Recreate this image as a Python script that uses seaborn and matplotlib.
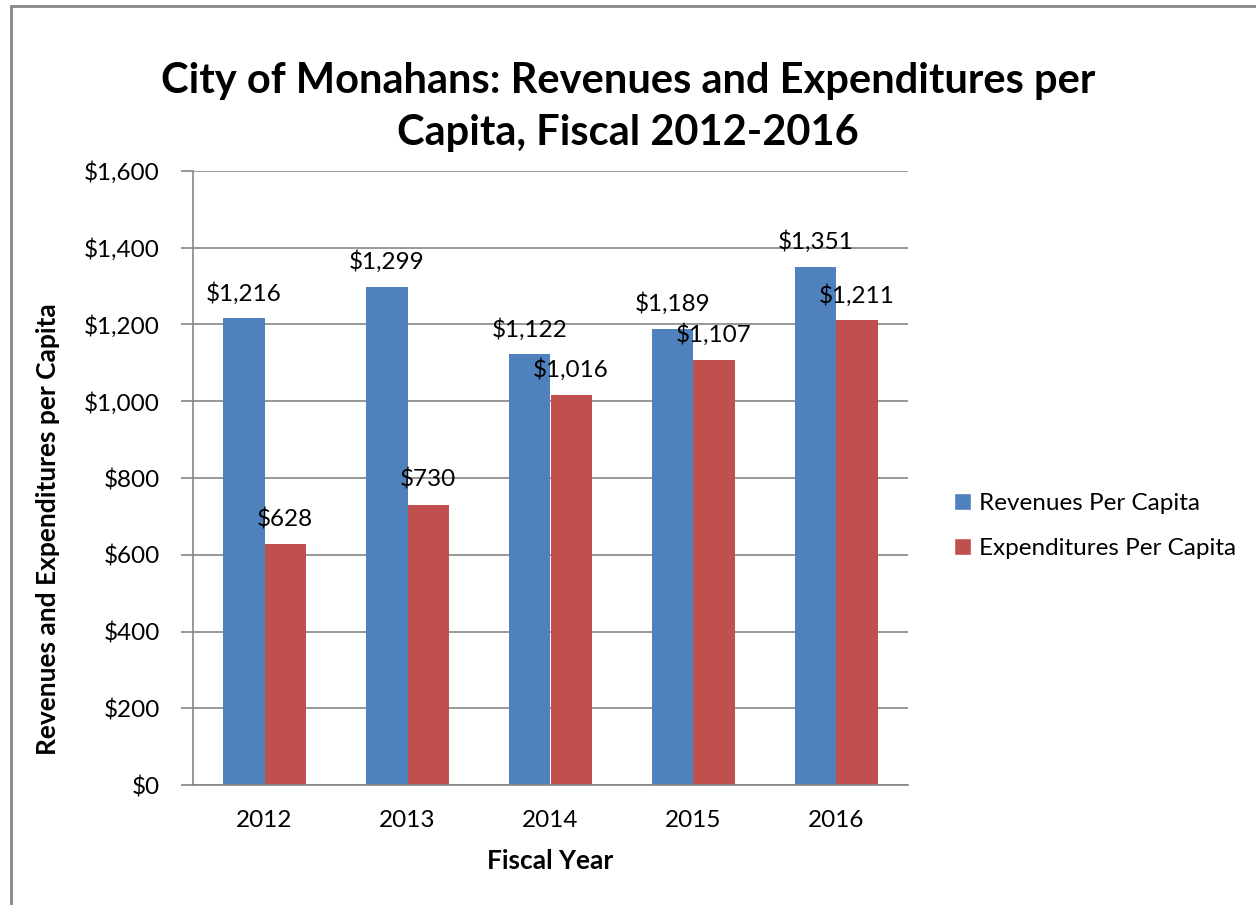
import pandas as pd
import matplotlib.pyplot as plt
import seaborn as sns
from matplotlib.patches import Rectangle, Patch

# Datos del grafico
years = ['2012', '2013', '2014', '2015', '2016']
revenues = [1216, 1299, 1122, 1189, 1351]
expenditures = [628, 730, 1016, 1107, 1211]
series = ['Revenues Per Capita', 'Expenditures Per Capita']
colors = ['#4F81BD', '#C0504D']

df = pd.DataFrame({
    'Fiscal Year': years * 2,
    'Value': revenues + expenditures,
    'Series': [series[0]] * len(years) + [series[1]] * len(years),
})

sns.set_style('white')
plt.rcParams['font.family'] = ['Lato', 'DejaVu Sans']
plt.rcParams['text.color'] = 'black'
plt.rcParams['xtick.color'] = 'black'
plt.rcParams['ytick.color'] = 'black'
plt.rcParams['axes.labelcolor'] = 'black'

fig = plt.figure(figsize=(12.56, 9.05), dpi=100)
ax = fig.add_axes([193 / 1256, 1 - 785 / 905, 715 / 1256, 614 / 905])

sns.barplot(data=df, x='Fiscal Year', y='Value', hue='Series', palette=colors,
            width=0.574, gap=0, saturation=1, linewidth=0, ax=ax, legend=False)

for c in ax.containers:
    labels = ['${:,.0f}'.format(v) for v in c.datavalues]
    ax.bar_label(c, labels=labels, padding=10, fontsize=17.5)

ax.set_ylim(0, 1600)
ax.set_yticks(range(0, 1601, 200))
ax.set_yticklabels(['${:,}'.format(v) for v in range(0, 1601, 200)], fontsize=17.5)
ax.tick_params(axis='x', labelsize=17.5, length=0, pad=18)
ax.tick_params(axis='y', length=9, width=1.2, color='#868686', left=True, pad=15)
ax.yaxis.grid(True, color='#868686', linewidth=1.2)
ax.set_axisbelow(True)
for s in ['top', 'right']:
    ax.spines[s].set_visible(False)
for s in ['left', 'bottom']:
    ax.spines[s].set_color('#868686')
    ax.spines[s].set_linewidth(1.2)

ax.set_xlabel('Fiscal Year', fontsize=19, fontweight='bold')
ax.set_ylabel('Revenues and Expenditures per Capita', fontsize=19, fontweight='bold')
ax.xaxis.set_label_coords(0.5, (785 - 849) / 614)
ax.yaxis.set_label_coords((60 - 193) / 715, (785 - 529) / 614)

fig.text(0.5, 1 - 107 / 905, 'City of Monahans: Revenues and Expenditures per\nCapita, Fiscal 2012-2016',
         ha='center', va='center', fontsize=30, fontweight='bold', linespacing=1.42)

handles = [Patch(facecolor=colors[i], label=series[i]) for i in range(2)]
fig.legend(handles=handles, loc='center left', bbox_to_anchor=(0.742, 1 - 526 / 905),
           frameon=False, fontsize=17.5, handlelength=0.7, handleheight=0.7,
           handletextpad=0.35, labelspacing=1.0)

fig.add_artist(Rectangle((11 / 1256, -0.05), 1.1, 1.05 - 6 / 905, transform=fig.transFigure,
                         fill=False, edgecolor='#868686', linewidth=2))

plt.savefig('out.png', dpi=100)
